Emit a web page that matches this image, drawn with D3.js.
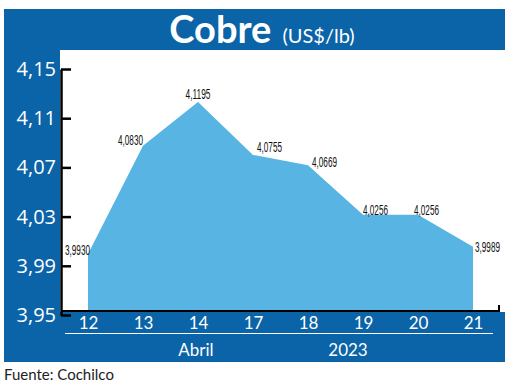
<!DOCTYPE html>
<html>
<head>
<meta charset="utf-8">
<script src="https://cdn.jsdelivr.net/npm/d3@7"></script>
<style>
  body { margin: 0; background: #fff; }
  svg { display: block; }
</style>
</head>
<body>
<svg id="chart" width="520" height="384"></svg>
<script>
// datos: cobre, US$/lb, abril 2023
var days = ["12", "13", "14", "17", "18", "19", "20", "21"];
var prices = [3.9930, 4.0830, 4.1195, 4.0755, 4.0669, 4.0256, 4.0256, 3.9989];
var yTicks = [3.95, 3.99, 4.03, 4.07, 4.11, 4.15];
var monthLabel = "Abril";
var yearLabel = "2023";
var titleMain = "Cobre";
var titleUnit = "(US$/lb)";
var source = "Fuente: Cochilco";

var blue = "#0b63a8", fillBlue = "#58b4e2";
var es = d3.formatLocale({decimal: ",", thousands: ".", grouping: [3], currency: ["$", ""]});
var fmt4 = es.format(".4f"), fmt2 = es.format(".2f");

var svg = d3.select("#chart");

// marco azul
svg.append("rect").attr("x", 4).attr("y", 9).attr("width", 501).attr("height", 353).attr("fill", blue);
svg.append("rect").attr("x", 60).attr("y", 50).attr("width", 445).attr("height", 262).attr("fill", "#fff");

var title = svg.append("text").attr("x", 262).attr("y", 43).attr("text-anchor", "middle")
  .attr("fill", "#fff").style("font-family", "Lato, 'Open Sans', sans-serif");
title.append("tspan").text(titleMain).style("font-size", "38px").style("font-weight", "bold");
title.append("tspan").text(titleUnit).attr("dx", 11).style("font-size", "20px");

var x = d3.scalePoint().domain(days).range([88, 473]);
var yAxisScale = d3.scaleLinear().domain([3.95, 4.15]).range([315, 69]);
var y = d3.scaleLinear().domain([3.95, 4.15]).range([305.6, 65.4]);

var area = d3.area()
  .x(function(d, i){ return x(days[i]); })
  .y0(310)
  .y1(function(d){ return y(d); });

svg.append("path").datum(prices).attr("d", area).attr("fill", fillBlue);

// eje y
var yAxis = svg.append("g").attr("transform", "translate(61,0)")
  .call(d3.axisLeft(yAxisScale).tickValues(yTicks).tickFormat(fmt2).tickSize(-10).tickSizeOuter(0).tickPadding(5));
yAxis.select(".domain").attr("stroke", "#000").attr("stroke-width", 2.5);
yAxis.selectAll(".tick line").attr("stroke", "#000").attr("stroke-width", 2.5);
yAxis.selectAll(".tick text").attr("fill", "#fff")
  .style("font-family", "'Liberation Sans Narrow', 'Open Sans', sans-serif").style("font-size", "20px");

// linea base
svg.append("path").attr("d", "M61,311H499V305").attr("fill", "none").attr("stroke", "#000").attr("stroke-width", 2);

// eje x
var xAxis = svg.append("g").attr("transform", "translate(0,329)")
  .call(d3.axisBottom(x).tickSize(0).tickPadding(0));
xAxis.select(".domain").remove();
xAxis.selectAll(".tick text").attr("fill", "#fff").attr("dy", 0)
  .style("font-family", "Lato, 'Open Sans', sans-serif").style("font-size", "17px");

svg.append("line").attr("x1", 65).attr("x2", 493).attr("y1", 333.5).attr("y2", 333.5)
  .attr("stroke", "#fff").attr("stroke-width", 1.2);

svg.append("text").attr("x", 196).attr("y", 356).attr("text-anchor", "middle").attr("fill", "#fff")
  .style("font-family", "Lato, 'Open Sans', sans-serif").style("font-size", "17px").text(monthLabel);
svg.append("text").attr("x", 348).attr("y", 356).attr("text-anchor", "middle").attr("fill", "#fff")
  .style("font-family", "Lato, 'Open Sans', sans-serif").style("font-size", "17px").text(yearLabel);

// etiquetas de valores
var placement = [
  {a: "end", dx: 2, dy: 1},
  {a: "end", dx: 0, dy: -1},
  {a: "middle", dx: 0, dy: -3},
  {a: "start", dx: 4, dy: -3},
  {a: "start", dx: 4, dy: 2},
  {a: "start", dx: 0, dy: 0},
  {a: "start", dx: -4, dy: 0},
  {a: "start", dx: 2, dy: 5}
];
svg.append("g").selectAll("text").data(prices).enter().append("text")
  .attr("x", function(d, i){ return x(days[i]) + placement[i].dx; })
  .attr("y", function(d, i){ return y(d) + placement[i].dy; })
  .attr("text-anchor", function(d, i){ return placement[i].a; })
  .attr("fill", "#111")
  .style("font-family", "'Liberation Sans Narrow', sans-serif").style("font-size", "14px")
  .attr("textLength", 25).attr("lengthAdjust", "spacingAndGlyphs")
  .text(function(d){ return fmt4(d); });

svg.append("text").attr("x", 4).attr("y", 380).attr("fill", "#222")
  .style("font-family", "Lato, 'Open Sans', sans-serif").style("font-size", "15px").text(source);
</script>
</body>
</html>
